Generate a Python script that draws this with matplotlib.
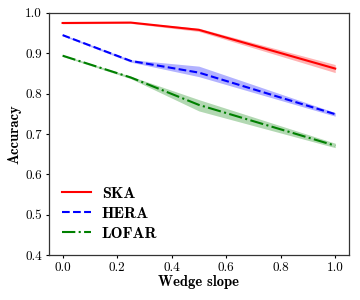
import matplotlib
matplotlib.use("Agg")
import matplotlib.pyplot as plt
import numpy as np

plt.rcParams['font.family'] = 'cmr10'
plt.rcParams['axes.formatter.use_mathtext'] = True

x = [0.0, 0.25, 0.5, 1.0]
ska = [0.975, 0.976, 0.958, 0.862]
ska_lo = [0.973, 0.974, 0.954, 0.852]
ska_hi = [0.977, 0.978, 0.962, 0.872]
hera = [0.945, 0.881, 0.852, 0.749]
hera_lo = [0.943, 0.878, 0.842, 0.744]
hera_hi = [0.947, 0.884, 0.868, 0.753]
lofar = [0.894, 0.840, 0.772, 0.671]
lofar_lo = [0.892, 0.837, 0.757, 0.666]
lofar_hi = [0.896, 0.843, 0.785, 0.677]

fig = plt.figure(figsize=(3.6, 3.0), dpi=100)
ax = fig.add_axes([0.136, 0.15, 0.833, 0.807])

ax.fill_between(x, ska_lo, ska_hi, color='r', alpha=0.3, lw=0)
ax.plot(x, ska, color='r', ls='-', lw=1.5, label='SKA')
ax.fill_between(x, hera_lo, hera_hi, color='b', alpha=0.3, lw=0)
ax.plot(x, hera, color='b', ls='--', lw=1.5, label='HERA')
ax.fill_between(x, lofar_lo, lofar_hi, color='g', alpha=0.3, lw=0)
ax.plot(x, lofar, color='g', ls='-.', lw=1.5, label='LOFAR')

ax.set_xlim(-0.05, 1.05)
ax.set_ylim(0.4, 1.0)
ax.set_xticks([0.0, 0.2, 0.4, 0.6, 0.8, 1.0])
ax.set_yticks([0.4, 0.5, 0.6, 0.7, 0.8, 0.9, 1.0])
ax.set_xticklabels(['0.0', '0.2', '0.4', '0.6', '0.8', '1.0'])
ax.set_yticklabels(['0.4', '0.5', '0.6', '0.7', '0.8', '0.9', '1.0'])
ax.tick_params(labelsize=9.5, length=2.5, width=0.8, pad=2.5)
for s in ax.spines.values():
    s.set_color('#333333')
    s.set_linewidth(0.9)

ax.set_xlabel('Wedge slope', fontfamily='cmb10', fontsize=10.5, labelpad=1)
ax.set_ylabel('Accuracy', fontfamily='cmb10', fontsize=10.5, labelpad=3)

ax.legend(loc='lower left', frameon=False, prop={'family': 'cmb10', 'size': 11.5},
          bbox_to_anchor=(-0.005, 0.0), handlelength=1.8, handletextpad=0.7,
          labelspacing=0.35)

fig.savefig('out.png', dpi=100)
